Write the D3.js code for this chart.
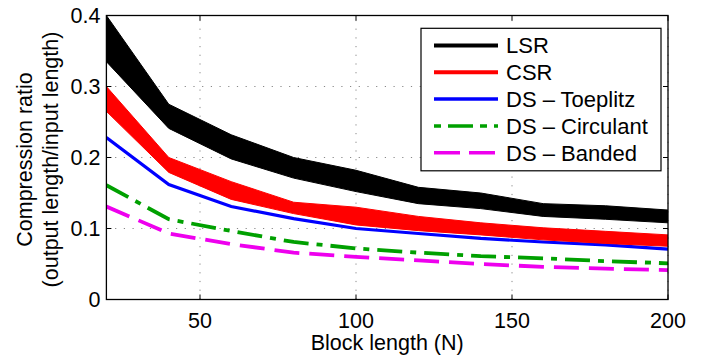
<!DOCTYPE html>
<html>
<head>
<meta charset="utf-8">
<script src="https://cdn.jsdelivr.net/npm/d3@7"></script>
<style>
  body { margin: 0; background: #fff; }
  text { font-family: "Liberation Sans", Arial, sans-serif; fill: #000; }
</style>
</head>
<body>
<div id="chart"></div>
<script>
// block lengths
const blockLength = [20, 40, 60, 80, 100, 120, 140, 160, 180, 200];
// LSR band
const lsrUpper = [0.400, 0.275, 0.232, 0.200, 0.182, 0.158, 0.150, 0.135, 0.132, 0.126];
const lsrLower = [0.335, 0.241, 0.198, 0.171, 0.152, 0.135, 0.128, 0.117, 0.113, 0.108];
// CSR band
const csrUpper = [0.300, 0.200, 0.166, 0.137, 0.130, 0.117, 0.108, 0.101, 0.096, 0.091];
const csrLower = [0.265, 0.179, 0.141, 0.121, 0.105, 0.097, 0.091, 0.084, 0.079, 0.075];
// DS variants
const dsToeplitz = [0.228, 0.162, 0.131, 0.114, 0.100, 0.093, 0.086, 0.081, 0.077, 0.071];
const dsCirculant = [0.161, 0.113, 0.0965, 0.081, 0.072, 0.066, 0.061, 0.058, 0.054, 0.051];
const dsBanded = [0.131, 0.093, 0.078, 0.066, 0.060, 0.055, 0.050, 0.046, 0.0434, 0.0415];

const xTicks = [50, 100, 150, 200];
const yTicks = [0, 0.1, 0.2, 0.3, 0.4];
const legendLabels = ["LSR", "CSR", "DS \u2013 Toeplitz", "DS \u2013 Circulant", "DS \u2013 Banded"];

const width = 712, height = 358;
const margin = { left: 106.4, right: 44, top: 15.5, bottom: 58.5 };
const fontSize = 21.5;

const svg = d3.select("#chart").append("svg")
    .attr("width", width)
    .attr("height", height);

const x = d3.scaleLinear().domain([20, 200]).range([margin.left, width - margin.right]);
const y = d3.scaleLinear().domain([0, 0.4]).range([height - margin.bottom, margin.top]);

const x0 = x.range()[0], x1 = x.range()[1];
const y0 = y.range()[0], y1 = y.range()[1];

svg.append("clipPath").attr("id", "plot-clip")
    .append("rect")
    .attr("x", x0).attr("y", y1)
    .attr("width", x1 - x0).attr("height", y0 - y1);

// grid (dotted)
const grid = svg.append("g");
grid.selectAll(".gx").data(xTicks).enter().append("line")
    .attr("x1", d => x(d)).attr("x2", d => x(d))
    .attr("y1", y0).attr("y2", y1)
    .attr("stroke", "#888").attr("stroke-width", 1)
    .attr("stroke-dasharray", "1.2,7.5");
grid.selectAll(".gy").data(yTicks).enter().append("line")
    .attr("x1", x0).attr("x2", x1)
    .attr("y1", d => y(d)).attr("y2", d => y(d))
    .attr("stroke", "#888").attr("stroke-width", 1)
    .attr("stroke-dasharray", "1.2,7.5");

const plot = svg.append("g").attr("clip-path", "url(#plot-clip)");

const band = (up, lo) => d3.area()
    .x((d, i) => x(blockLength[i]))
    .y0((d, i) => y(lo[i]))
    .y1((d, i) => y(up[i]));

const line = vals => d3.line()
    .x((d, i) => x(blockLength[i]))
    .y((d, i) => y(vals[i]));

// LSR band
plot.append("path")
    .attr("d", band(lsrUpper, lsrLower)(blockLength))
    .attr("fill", "#000").attr("stroke", "#000").attr("stroke-width", 1);

// Toeplitz (below CSR band)
plot.append("path")
    .attr("d", line(dsToeplitz)(blockLength))
    .attr("fill", "none").attr("stroke", "#0000ff").attr("stroke-width", 3.2);

// CSR band
plot.append("path")
    .attr("d", band(csrUpper, csrLower)(blockLength))
    .attr("fill", "#ff0000").attr("stroke", "#ff0000").attr("stroke-width", 1);

// Circulant
plot.append("path")
    .attr("d", line(dsCirculant)(blockLength))
    .attr("fill", "none").attr("stroke", "#00a000").attr("stroke-width", 3.8)
    .attr("stroke-dasharray", "25,8,6,8");

// Banded
plot.append("path")
    .attr("d", line(dsBanded)(blockLength))
    .attr("fill", "none").attr("stroke", "#ee00ee").attr("stroke-width", 3.8)
    .attr("stroke-dasharray", "25,10");

// axes box + ticks
const axes = svg.append("g");
axes.append("rect")
    .attr("x", x0).attr("y", y1)
    .attr("width", x1 - x0).attr("height", y0 - y1)
    .attr("fill", "none").attr("stroke", "#000").attr("stroke-width", 1.3);

const tickLen = 5;
xTicks.forEach(t => {
    axes.append("line").attr("x1", x(t)).attr("x2", x(t)).attr("y1", y0).attr("y2", y0 - tickLen).attr("stroke", "#000");
    axes.append("line").attr("x1", x(t)).attr("x2", x(t)).attr("y1", y1).attr("y2", y1 + tickLen).attr("stroke", "#000");
});
yTicks.forEach(t => {
    axes.append("line").attr("x1", x0).attr("x2", x0 + tickLen).attr("y1", y(t)).attr("y2", y(t)).attr("stroke", "#000");
    axes.append("line").attr("x1", x1).attr("x2", x1 - tickLen).attr("y1", y(t)).attr("y2", y(t)).attr("stroke", "#000");
});

axes.selectAll(".xl").data(xTicks).enter().append("text")
    .attr("x", d => x(d)).attr("y", y0 + 28)
    .attr("text-anchor", "middle")
    .style("font-size", fontSize + "px")
    .text(d => d);

axes.selectAll(".yl").data(yTicks).enter().append("text")
    .attr("x", x0 - 6).attr("y", d => y(d))
    .attr("dy", "0.36em")
    .attr("text-anchor", "end")
    .style("font-size", fontSize + "px")
    .text(d => d === 0 ? "0" : d3.format(".1f")(d));

svg.append("text")
    .attr("x", (x0 + x1) / 2).attr("y", 350)
    .attr("text-anchor", "middle")
    .style("font-size", fontSize + "px")
    .text("Block length (N)");

const yLab = svg.append("text")
    .attr("transform", "translate(32," + ((y0 + y1) / 2 + 2) + ") rotate(-90)")
    .attr("text-anchor", "middle")
    .style("font-size", fontSize + "px");
yLab.append("tspan").attr("x", 0).attr("y", 0).text("Compression ratio");
yLab.append("tspan").attr("x", 0).attr("y", 26).text("(output length/input length)");

// legend
const legend = svg.append("g");
legend.append("rect")
    .attr("x", 421).attr("y", 28.3)
    .attr("width", 240).attr("height", 142.5)
    .attr("fill", "#fff").attr("stroke", "#000").attr("stroke-width", 1.2);

const legendStyles = [
    { color: "#000", width: 4, dash: null, offset: 0 },
    { color: "#ff0000", width: 4, dash: null, offset: 0 },
    { color: "#0000ff", width: 3.5, dash: null, offset: 0 },
    { color: "#00a000", width: 3.5, dash: "25,7,7,7", offset: 32 },
    { color: "#ee00ee", width: 3.5, dash: "26,9", offset: 0 }
];
legendLabels.forEach((lab, i) => {
    const ly = 45.5 + i * 26.8;
    const s = legendStyles[i];
    const ln = legend.append("line")
        .attr("x1", 434).attr("x2", 498)
        .attr("y1", ly).attr("y2", ly)
        .attr("stroke", s.color).attr("stroke-width", s.width);
    if (s.dash) ln.attr("stroke-dasharray", s.dash).attr("stroke-dashoffset", s.offset);
    legend.append("text")
        .attr("x", 506).attr("y", ly)
        .attr("dy", "0.36em")
        .style("font-size", "22px")
        .text(lab);
});
</script>
</body>
</html>
